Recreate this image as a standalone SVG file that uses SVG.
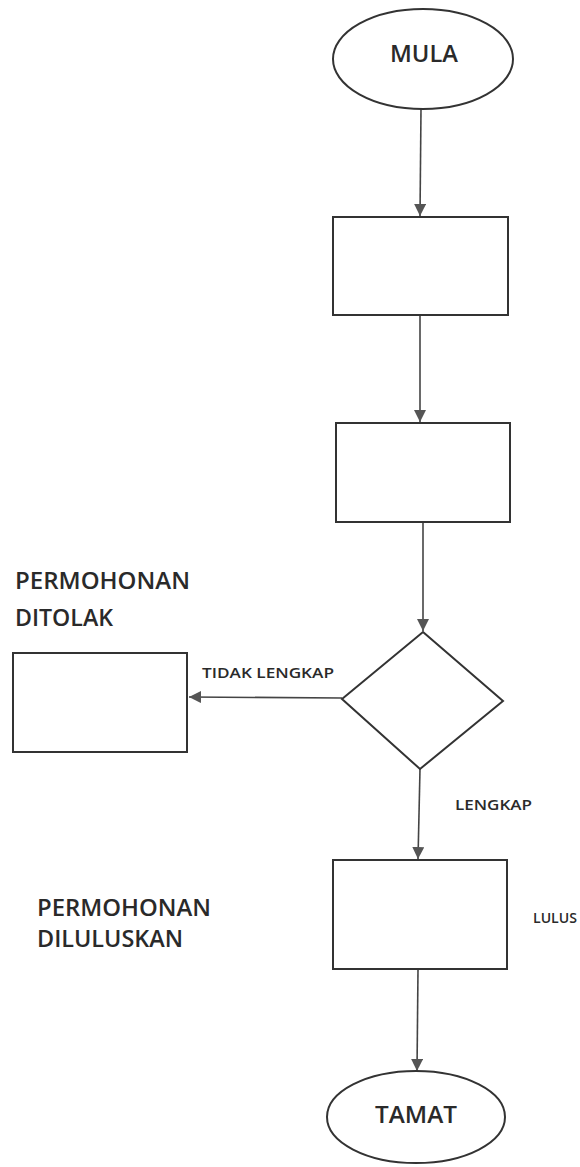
<svg xmlns="http://www.w3.org/2000/svg" width="580" height="1167" viewBox="0 0 580 1167">
<defs>
<marker id="arr" markerUnits="userSpaceOnUse" markerWidth="14" markerHeight="14" refX="12" refY="6" orient="auto">
<path d="M0,0 L12,6 L0,12 Z" fill="#555"/>
</marker>
<style>
.shape{fill:#fff;stroke:#333;stroke-width:2}
.conn{stroke:#444;stroke-width:1.6;fill:none;marker-end:url(#arr)}
.t{font-family:"Open Sans",Lato,"Liberation Sans",sans-serif;fill:#2a2a2a}
.big{font-size:23px;font-weight:600}
.small{font-size:14px;font-weight:600}
</style>
</defs>
<rect width="580" height="1167" fill="#fff"/>
<g id="connectors">
<line class="conn" x1="421" y1="109" x2="420" y2="216"/>
<line class="conn" x1="420" y1="316" x2="420" y2="422"/>
<line class="conn" x1="423" y1="523" x2="423" y2="631"/>
<line class="conn" x1="342" y1="698" x2="189" y2="697"/>
<line class="conn" x1="420" y1="769" x2="418" y2="859"/>
<line class="conn" x1="418" y1="970" x2="417" y2="1071"/>
</g>
<g id="mula">
<ellipse class="shape" cx="423" cy="59" rx="90" ry="50"/>
<text class="t big" x="424" y="62" text-anchor="middle" textLength="68" lengthAdjust="spacingAndGlyphs">MULA</text>
</g>
<g id="step1">
<rect class="shape" x="333" y="217" width="175" height="98"/>
</g>
<g id="step2">
<rect class="shape" x="336" y="423" width="174" height="99"/>
</g>
<g id="decision">
<polygon class="shape" points="423,632 503,701 420,769 342,699"/>
</g>
<g id="ditolak">
<rect class="shape" x="13" y="653" width="174" height="99"/>
<text class="t big" x="15" y="589" textLength="175" lengthAdjust="spacingAndGlyphs">PERMOHONAN</text>
<text class="t big" x="15" y="626" textLength="98" lengthAdjust="spacingAndGlyphs">DITOLAK</text>
</g>
<g id="lulus">
<rect class="shape" x="333" y="860" width="174" height="109"/>
<text class="t big" x="37" y="916" textLength="174" lengthAdjust="spacingAndGlyphs">PERMOHONAN</text>
<text class="t big" x="37" y="947" textLength="146" lengthAdjust="spacingAndGlyphs">DILULUSKAN</text>
</g>
<g id="tamat">
<ellipse class="shape" cx="416" cy="1117" rx="89" ry="46"/>
<text class="t big" x="416" y="1123" text-anchor="middle" textLength="82" lengthAdjust="spacingAndGlyphs">TAMAT</text>
</g>
<g id="labels">
<text class="t small" x="202" y="678" textLength="132" lengthAdjust="spacingAndGlyphs">TIDAK LENGKAP</text>
<text class="t small" x="455" y="810" textLength="77" lengthAdjust="spacingAndGlyphs">LENGKAP</text>
<text class="t small" x="533" y="923" textLength="44" lengthAdjust="spacingAndGlyphs">LULUS</text>
</g>
</svg>
